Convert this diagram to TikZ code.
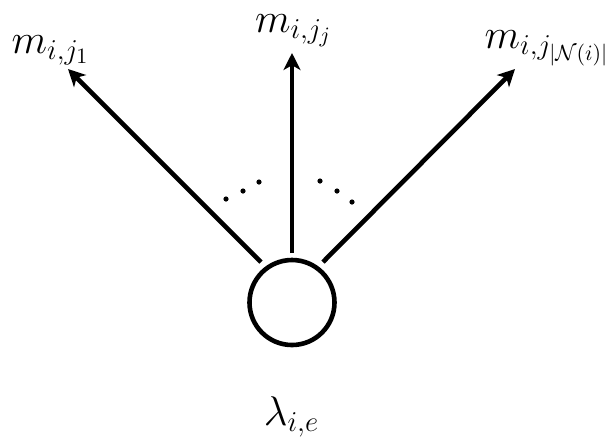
\documentclass[tikz,border=0pt]{standalone}
\usetikzlibrary{arrows.meta}
\begin{document}
\begin{tikzpicture}[x=0.5pt,y=-0.5pt,
  edge/.style={line width=2.3pt,-{Stealth[length=8.5pt,width=8.5pt,inset=2.4pt]}},
  lbl/.style={inner sep=0pt,anchor=base,font=\fontsize{21.5}{26}\selectfont},
  dotmark/.style={fill=black}]
\useasboundingbox (0,0) rectangle (616,441);
\node[draw,circle,line width=2.3pt,minimum size=42.5pt,inner sep=0pt] (c) at (292,302.5) {};
\coordinate (s1) at (261,262);
\coordinate (s2) at (292,253);
\coordinate (s3) at (323,262);
\coordinate (t1) at (68,69);
\coordinate (t2) at (292,53);
\coordinate (t3) at (515,69);
\draw[edge] (s1) -- (t1);
\draw[edge] (s2) -- (t2);
\draw[edge] (s3) -- (t3);
\node[lbl] (m1) at (50.5,53) {$m_{i,j_1}$};
\node[lbl] (m2) at (293.5,32) {$m_{i,j_j}$};
\node[lbl] (m3) at (547,48) {$m_{i,j_{|\mathcal{N}(i)|}}$};
\node[lbl] (lam) at (291.5,425) {$\lambda_{i,e}$};
\foreach \p in {(226,199),(243,191),(259,182),(320,181),(337,191),(352,202)}
  \fill[dotmark] \p circle (1.3pt);
\end{tikzpicture}
\end{document}
